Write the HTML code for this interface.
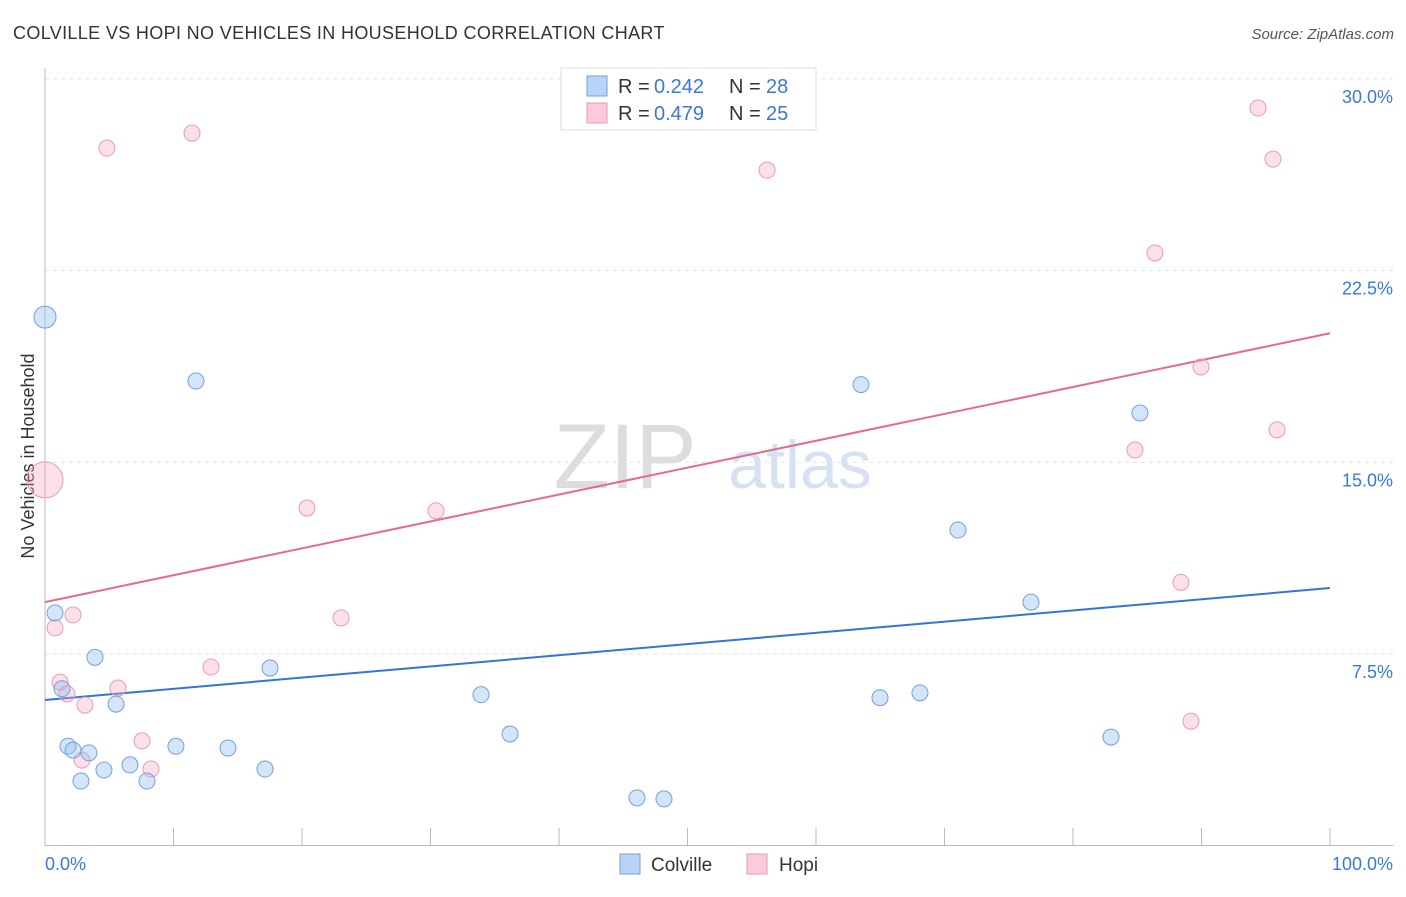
<!DOCTYPE html>
<html><head><meta charset="utf-8"><style>
body{margin:0;background:#fff;font-family:"Liberation Sans",sans-serif;}
svg text{font-family:"Liberation Sans",sans-serif;}
</style></head><body>
<svg id="chart" width="1406" height="892" xmlns="http://www.w3.org/2000/svg">
<text x="13" y="39" font-size="18" fill="#333" letter-spacing="0.35">COLVILLE VS HOPI NO VEHICLES IN HOUSEHOLD CORRELATION CHART</text>
<text x="1394" y="39" font-size="15" fill="#555" font-style="italic" text-anchor="end">Source: ZipAtlas.com</text>
<text transform="translate(34,456) rotate(-90)" font-size="18" fill="#333" text-anchor="middle">No Vehicles in Household</text>
<g>
<text x="625" y="488" font-size="92" fill="#ddd" font-family="Liberation Serif" text-anchor="middle">ZIP</text>
<text x="800" y="488" font-size="68" fill="#d6e2f3" text-anchor="middle">atlas</text>
</g>
<g id="grid"></g><g id="axes"></g><g id="lines"></g><g id="points"></g>
<g>
<rect x="561" y="68" width="255" height="62" fill="#fff" stroke="#ddd"/>
<rect x="587" y="76" width="20" height="20" fill="#b8d3f5" stroke="#6fa1e0"/>
<text x="618" y="93" font-size="20" fill="#333">R =</text>
<text x="654" y="93" font-size="20" fill="#3a78d4">0.242</text>
<text x="729" y="93" font-size="20" fill="#333">N =</text>
<text x="766" y="93" font-size="20" fill="#3a78d4">28</text>
<rect x="587" y="103" width="20" height="20" fill="#fbcbda" stroke="#e89ab5"/>
<text x="618" y="120" font-size="20" fill="#333">R =</text>
<text x="654" y="120" font-size="20" fill="#3a78d4">0.479</text>
<text x="729" y="120" font-size="20" fill="#333">N =</text>
<text x="766" y="120" font-size="20" fill="#3a78d4">25</text>
</g>
<g>
<rect x="620" y="854" width="20" height="20" fill="#b8d3f5" stroke="#6fa1e0"/>
<text x="651" y="871" font-size="19" fill="#333">Colville</text>
<rect x="747" y="854" width="20" height="20" fill="#fbcbda" stroke="#e89ab5"/>
<text x="779" y="871" font-size="19" fill="#333">Hopi</text>
</g>
</svg>
<script>
const yTicks=[7.5,15,22.5,30];
const yTickLabels=["7.5%","15.0%","22.5%","30.0%"];
const colvilleX=[0,0.78,1.32,3.89,5.53,1.79,2.18,3.42,2.80,4.59,6.61,7.94,10.19,14.24,11.75,17.51,17.12,33.93,36.19,46.07,48.17,63.50,64.98,68.09,71.05,76.73,82.96,85.21];
const colvilleY=[20.68,9.11,6.14,7.37,5.54,3.89,3.74,3.63,2.53,2.96,3.16,2.53,3.89,3.82,18.18,6.95,3.00,5.91,4.37,1.87,1.83,18.04,5.79,5.98,12.35,9.53,4.25,16.93];
const hopiX=[0,0.78,1.17,1.71,2.18,3.11,2.88,5.68,7.55,8.25,4.82,11.44,12.92,20.39,23.04,30.43,56.19,84.82,86.38,88.40,89.18,89.96,94.40,95.56,95.88];
const hopiY=[14.31,8.52,6.40,5.94,9.03,5.50,3.35,6.17,4.10,3.00,27.29,27.88,6.99,13.21,8.91,13.10,26.43,15.48,23.19,10.30,4.87,18.73,28.86,26.86,16.27];
const colvilleTrend=[5.70,10.08];
const hopiTrend=[9.53,20.05];
const NS="http://www.w3.org/2000/svg";
const sx=v=>45+v*12.85, sy=v=>845.7-v*25.56;
function mk(t,a,p){const e=document.createElementNS(NS,t);for(const k in a)e.setAttribute(k,a[k]);p.appendChild(e);return e;}
const grid=document.getElementById('grid'),axes=document.getElementById('axes');
yTicks.forEach((t,i)=>{
 const l=mk('line',{x1:45,x2:1393,y1:sy(t),y2:sy(t),stroke:'#e2e2e2','stroke-dasharray':'4,4'},grid);
 
 
 const tx=mk('text',{x:1393,y:sy(t)+24,'font-size':18,fill:'#3a78d4','text-anchor':'end'},axes);
 tx.textContent=yTickLabels[i];
 
 
});
let a=mk('line',{x1:45,x2:45,y1:68,y2:846,stroke:'#bbb'},axes);


a=mk('line',{x1:45,x2:1393,y1:845.5,y2:845.5,stroke:'#bbb'},axes);


for(let i=1;i<=10;i++){const t=mk('line',{x1:sx(i*10),x2:sx(i*10),y1:828,y2:846,stroke:'#bbb'},axes);
 
 }
let t=mk('text',{x:45,y:870,'font-size':18,fill:'#3a78d4'},axes);t.textContent='0.0%';


t=mk('text',{x:1393,y:870,'font-size':18,fill:'#3a78d4','text-anchor':'end'},axes);t.textContent='100.0%';


const lines=document.getElementById('lines'),pts=document.getElementById('points');
let tl=mk('line',{x1:sx(0),x2:sx(100),y1:sy(hopiTrend[0]),y2:sy(hopiTrend[1]),stroke:'#e8698f','stroke-width':2},lines);


tl=mk('line',{x1:sx(0),x2:sx(100),y1:sy(colvilleTrend[0]),y2:sy(colvilleTrend[1]),stroke:'#2f76d8','stroke-width':2},lines);


hopiX.forEach((x,i)=>{const c=mk('circle',{cx:sx(x),cy:sy(hopiY[i]),r:i===0?18:8,fill:'rgba(245,165,192,0.35)',stroke:'#e89ab5','stroke-width':1},pts);
 
 });
colvilleX.forEach((x,i)=>{const c=mk('circle',{cx:sx(x),cy:sy(colvilleY[i]),r:i===0?11:8,fill:'rgba(150,190,240,0.4)',stroke:'#6fa1e0','stroke-width':1},pts);
 
 });
</script>
</body></html>
